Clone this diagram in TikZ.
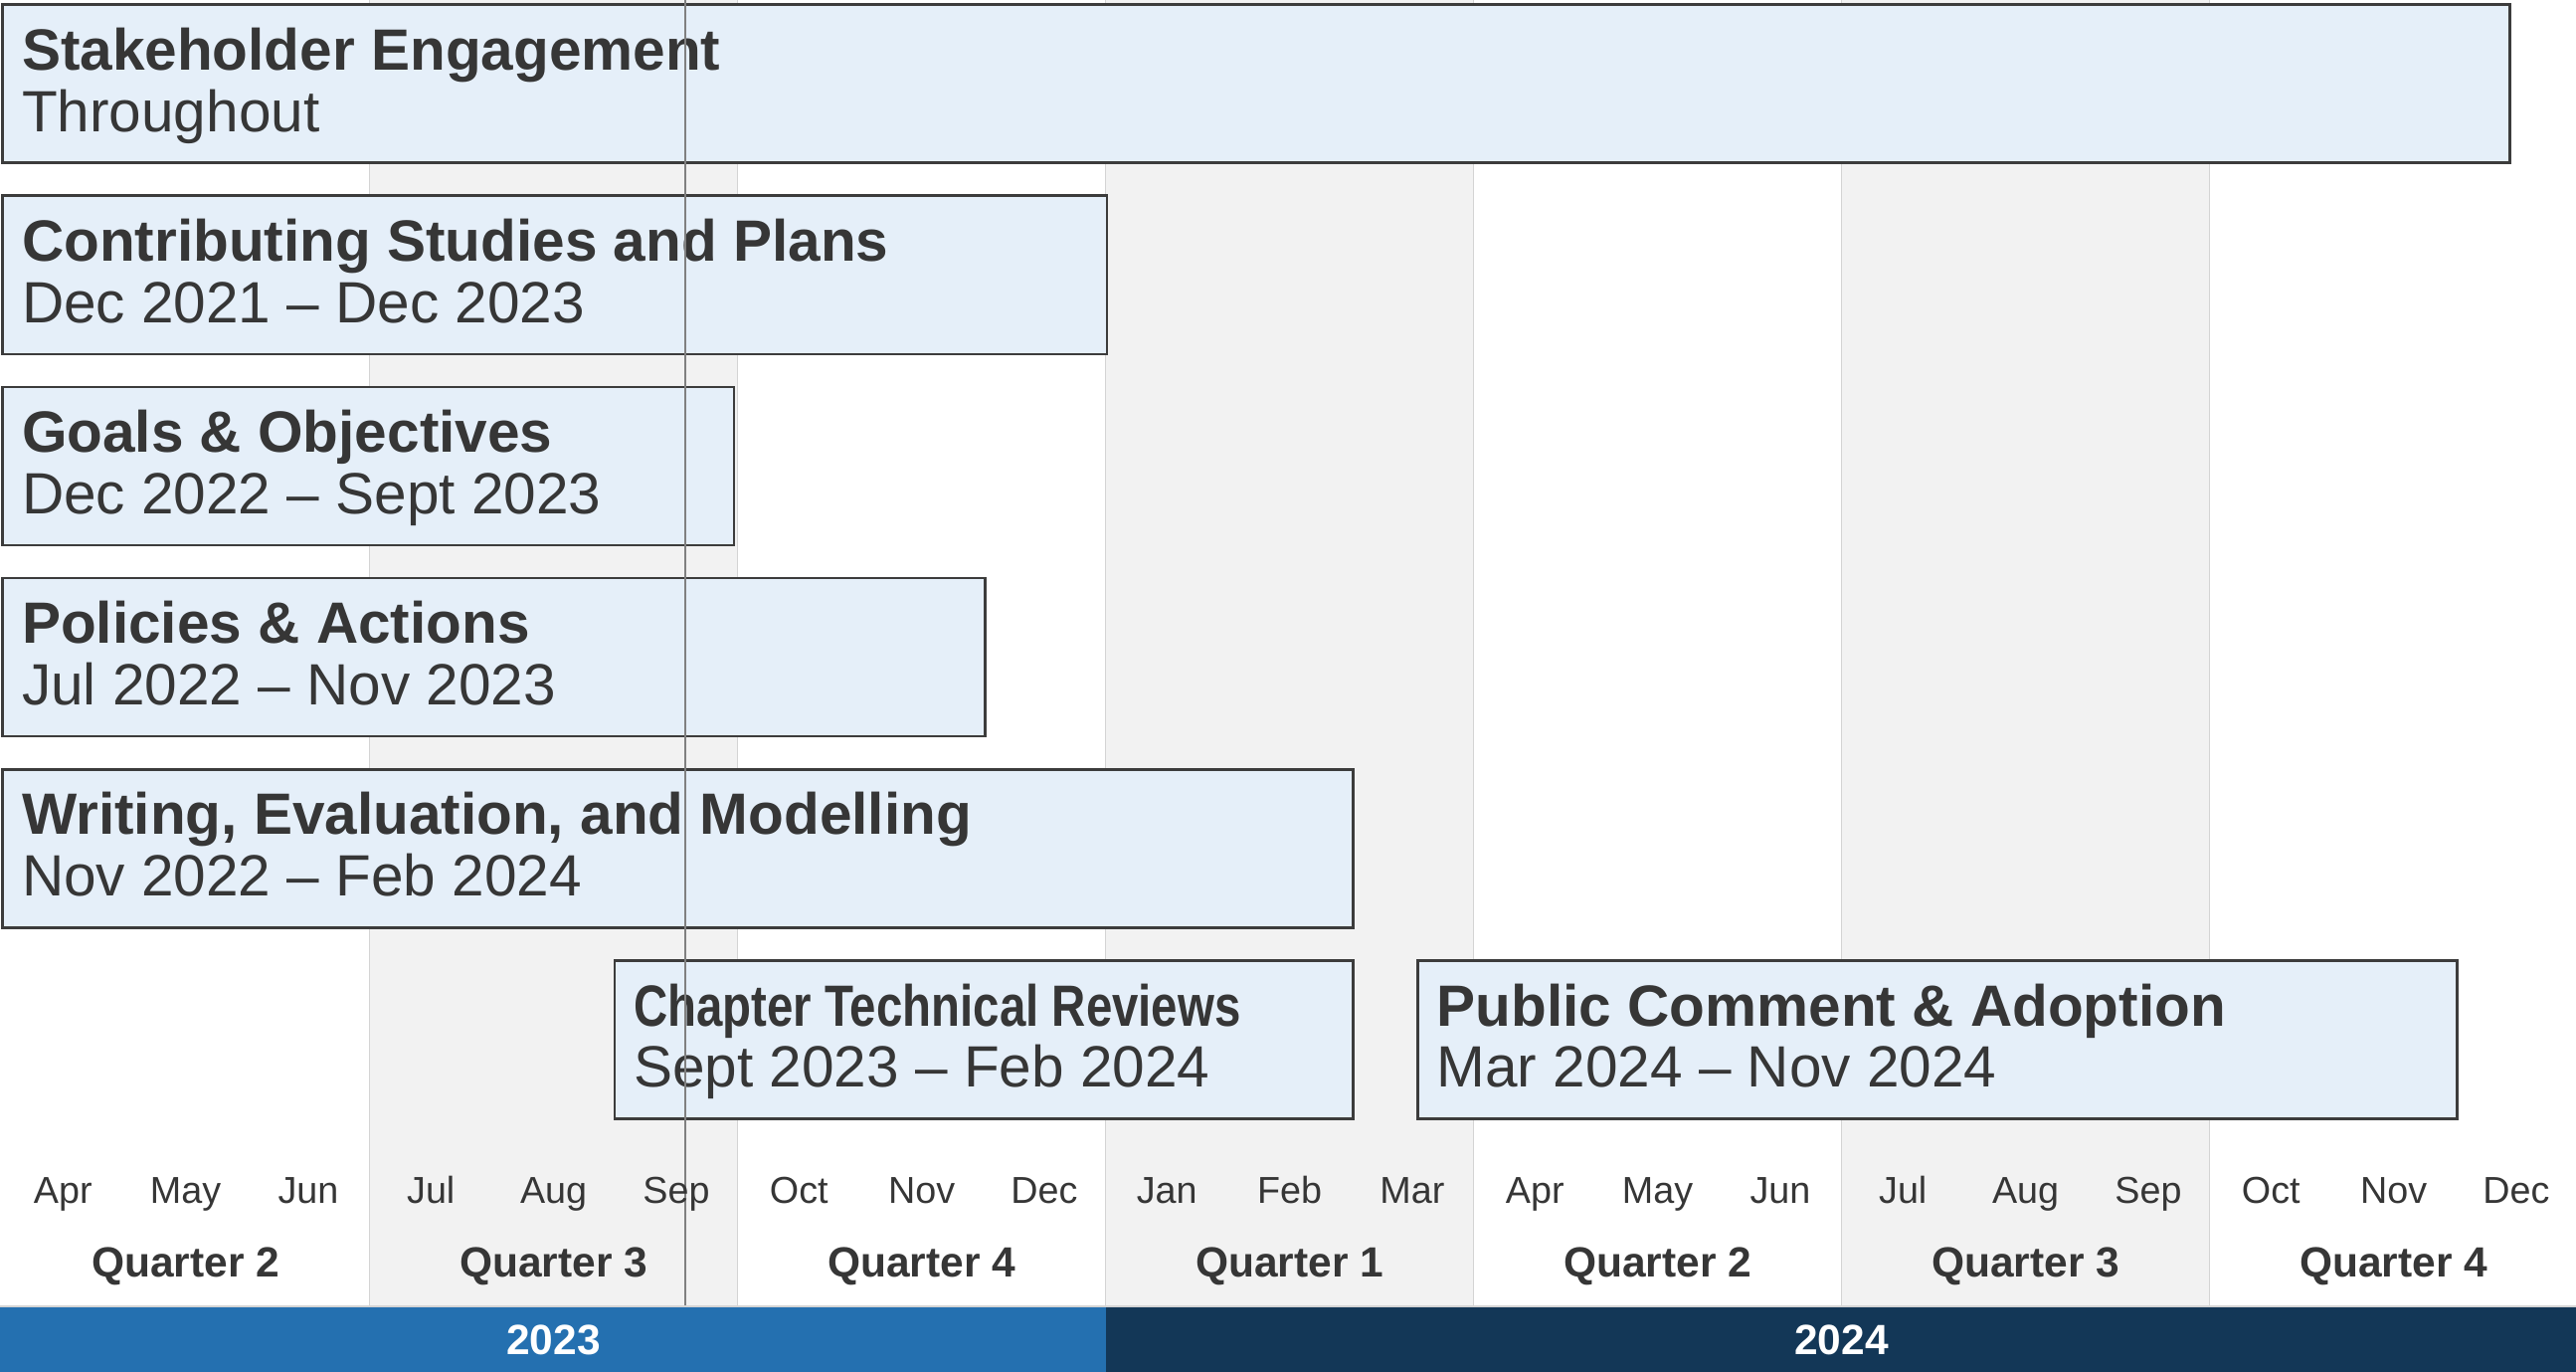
\documentclass[tikz,border=0pt]{standalone}
\usepackage{fontspec}
\setmainfont{Liberation Sans}
\usepackage{graphicx}
\definecolor{boxfill}{HTML}{E5EFF9}
\definecolor{boxline}{HTML}{3C3C3C}
\definecolor{ink}{HTML}{363636}
\definecolor{band}{HTML}{F2F2F2}
\definecolor{bandline}{HTML}{D4D4D4}
\definecolor{yearA}{HTML}{2470B0}
\definecolor{yearB}{HTML}{133757}
\tikzset{
  taskbox/.style={draw=boxline,line width=0.6pt,fill=boxfill,rectangle,anchor=north west,minimum height=1.29cm,inner sep=0pt},
  tasktitle/.style={anchor=base west,inner sep=0pt,text=ink,font=\fontsize{13.5}{16}\selectfont\bfseries},
  taskdate/.style={anchor=base west,inner sep=0pt,text=ink,font=\fontsize{13.5}{16}\selectfont},
  month/.style={anchor=base,inner sep=0pt,text=ink,font=\fontsize{8.7}{10}\selectfont},
  quarter/.style={anchor=base,inner sep=0pt,text=ink,font=\fontsize{9.8}{12}\selectfont\bfseries},
  year/.style={anchor=base,inner sep=0pt,text=white,font=\fontsize{9.8}{12}\selectfont\bfseries},
}
\begin{document}
\begin{tikzpicture}
      \useasboundingbox (0,0) rectangle (21,11.181);
      % quarter bands
      \foreach \x in {3,9,15}
        \fill[band] (\x+0.013,0.535) rectangle (\x+3.013,11.181);
      \foreach \x in {3,6,...,18}
        \draw[bandline,line width=0.3pt] (\x+0.013,0.535)--(\x+0.013,11.181);
      % tasks
      \node[taskbox,minimum width=20.44cm] (stake) at (0.012,11.154) {};
      \node[taskbox,minimum width=9.003cm] (studies) at (0.012,9.596) {};
      \node[taskbox,minimum width=5.96cm] (goals) at (0.012,8.038) {};
      \node[taskbox,minimum width=8.008cm] (policies) at (0.012,6.480) {};
      \node[taskbox,minimum width=11.008cm] (writing) at (0.012,4.922) {};
      \node[taskbox,minimum width=6.02cm] (reviews) at (5.0,3.364) {};
      \node[taskbox,minimum width=8.474cm] (adoption) at (11.546,3.364) {};
      \node[tasktitle] (stake-t) at ([xshift=0.16cm,yshift=-0.543cm]stake.north west) {Stakeholder Engagement};
      \node[taskdate] (stake-d) at ([xshift=0.16cm,yshift=-1.045cm]stake.north west) {Throughout};
      \node[tasktitle] (studies-t) at ([xshift=0.16cm,yshift=-0.543cm]studies.north west) {Contributing Studies and Plans};
      \node[taskdate] (studies-d) at ([xshift=0.16cm,yshift=-1.045cm]studies.north west) {Dec 2021 -- Dec 2023};
      \node[tasktitle] (goals-t) at ([xshift=0.16cm,yshift=-0.543cm]goals.north west) {Goals \& Objectives};
      \node[taskdate] (goals-d) at ([xshift=0.16cm,yshift=-1.045cm]goals.north west) {Dec 2022 -- Sept 2023};
      \node[tasktitle] (policies-t) at ([xshift=0.16cm,yshift=-0.543cm]policies.north west) {Policies \& Actions};
      \node[taskdate] (policies-d) at ([xshift=0.16cm,yshift=-1.045cm]policies.north west) {Jul 2022 -- Nov 2023};
      \node[tasktitle] (writing-t) at ([xshift=0.16cm,yshift=-0.543cm]writing.north west) {Writing, Evaluation, and Modelling};
      \node[taskdate] (writing-d) at ([xshift=0.16cm,yshift=-1.045cm]writing.north west) {Nov 2022 -- Feb 2024};
      \node[tasktitle] (reviews-t) at ([xshift=0.16cm,yshift=-0.543cm]reviews.north west) {\scalebox{0.81}[1]{Chapter Technical Reviews}};
      \node[taskdate] (reviews-d) at ([xshift=0.16cm,yshift=-1.045cm]reviews.north west) {Sept 2023 -- Feb 2024};
      \node[tasktitle] (adoption-t) at ([xshift=0.16cm,yshift=-0.543cm]adoption.north west) {Public Comment \& Adoption};
      \node[taskdate] (adoption-d) at ([xshift=0.16cm,yshift=-1.045cm]adoption.north west) {Mar 2024 -- Nov 2024};
      % today
      \draw[gray,line width=0.5pt] (5.586,0.5)--(5.586,11.181);
      % axis
      \foreach \m [count=\i from 0] in {Apr,May,Jun,Jul,Aug,Sep,Oct,Nov,Dec,Jan,Feb,Mar,Apr,May,Jun,Jul,Aug,Sep,Oct,Nov,Dec}
        \node[month] (m\i) at (\i+0.513,1.378) {\m};
      \foreach \q [count=\i from 0] in {2,3,4,1,2,3,4}
        \node[quarter] (q\i) at (3*\i+1.513,0.778) {Quarter \q};
      \fill[yearA] (0,0) rectangle (9.013,0.535);
      \fill[yearB] (9.013,0) rectangle (21,0.535);
      \draw[bandline,line width=0.3pt] (0,0.535)--(21,0.535);
      \node[year] (y2023) at (4.513,0.138) {2023};
      \node[year] (y2024) at (15.013,0.138) {2024};
\end{tikzpicture}
\end{document}
